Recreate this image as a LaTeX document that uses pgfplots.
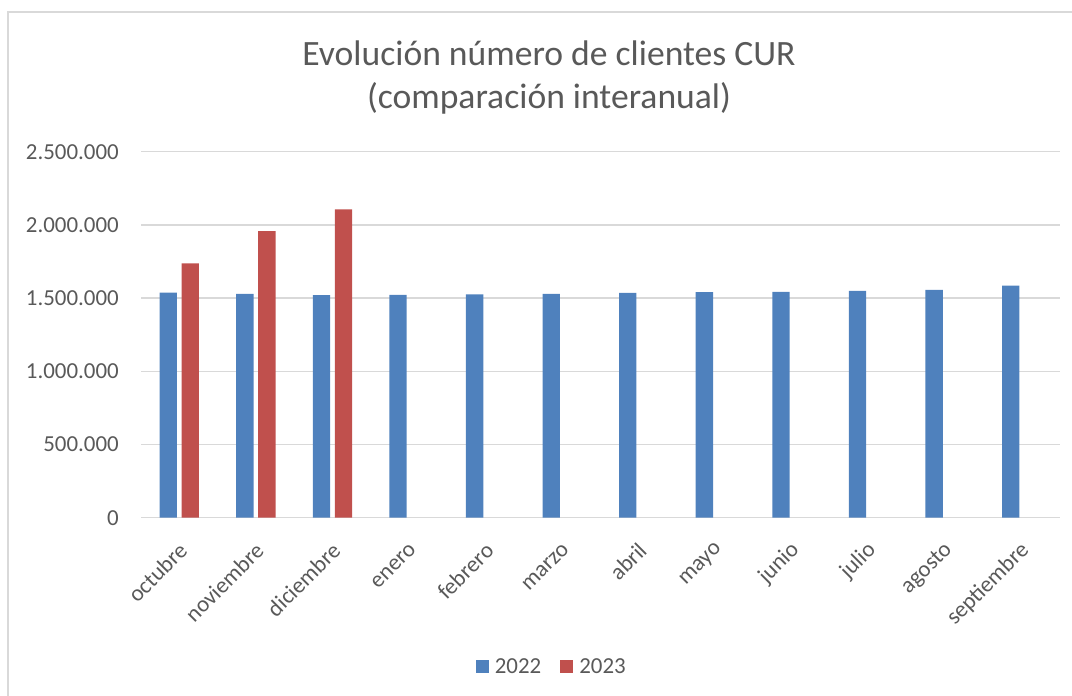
\documentclass[border=0pt]{standalone}
\usepackage{pgfplots}
\pgfplotsset{compat=1.18}
\usepackage{fontspec}
\setmainfont{Carlito}
\definecolor{txt}{HTML}{595959}
\definecolor{gridc}{HTML}{D9D9D9}
\definecolor{b22}{HTML}{4F81BD}
\definecolor{r23}{HTML}{C0504D}
\begin{document}
\begin{tikzpicture}
\path[use as bounding box] (0pt,0pt) rectangle (1072pt,696pt);
\draw[gridc, line width=1.3pt] (8pt,0pt) -- (8pt,684pt) -- (1072pt,684pt);
\node[txt, font=\fontsize{35.6}{43}\selectfont, anchor=base] at (549pt,630pt) {Evolución número de clientes CUR};
\node[txt, font=\fontsize{35.6}{43}\selectfont, anchor=base] at (549pt,587pt) {(comparación interanual)};
\begin{axis}[
  at={(141pt,178.3pt)}, anchor=south west,
  width=919pt, height=366pt, scale only axis,
  ybar=4.7pt, bar width=17.3pt,
  xmin=-0.5, xmax=11.5, ymin=0, ymax=2500000,
  xtick={0,...,11},
  xticklabels={octubre,noviembre,diciembre,enero,febrero,marzo,abril,mayo,junio,julio,agosto,septiembre},
  ytick={0,500000,1000000,1500000,2000000,2500000},
  yticklabels={0,500.000,1.000.000,1.500.000,2.000.000,2.500.000},
  scaled y ticks=false,
  ymajorgrids, grid style={gridc, line width=1.3pt},
  axis line style={draw=none},
  major tick length=0pt, tick style={draw=none},
  tick label style={txt, font=\fontsize{22.9}{27.5}\selectfont},
  yticklabel style={anchor=east, inner sep=0pt, xshift=-22pt},
  xticklabel style={anchor=east, inner sep=0pt, xshift=4pt, yshift=-29pt, rotate=45},
  legend columns=2,
  legend style={at={(0.447,-0.407)}, anchor=center, draw=none, fill=none,
    font=\fontsize{22.9}{27.5}\selectfont, text=txt,
    /tikz/every even column/.append style={column sep=17pt}},
  legend image code/.code={\fill[#1] (0pt,-6.5pt) rectangle (13pt,6.5pt); \path (17pt,0pt);},
]
\addplot[fill=b22, draw=none] coordinates {
(0,1537000) (1,1528000) (2,1521000) (3,1522000) (4,1525000) (5,1528000)
(6,1535000) (7,1540000) (8,1542000) (9,1549000) (10,1557000) (11,1585000)};
\addplot[fill=r23, draw=none] coordinates {
(0,1738000) (1,1958000) (2,2106000)};
\legend{2022,2023}
\end{axis}
\end{tikzpicture}
\end{document}
